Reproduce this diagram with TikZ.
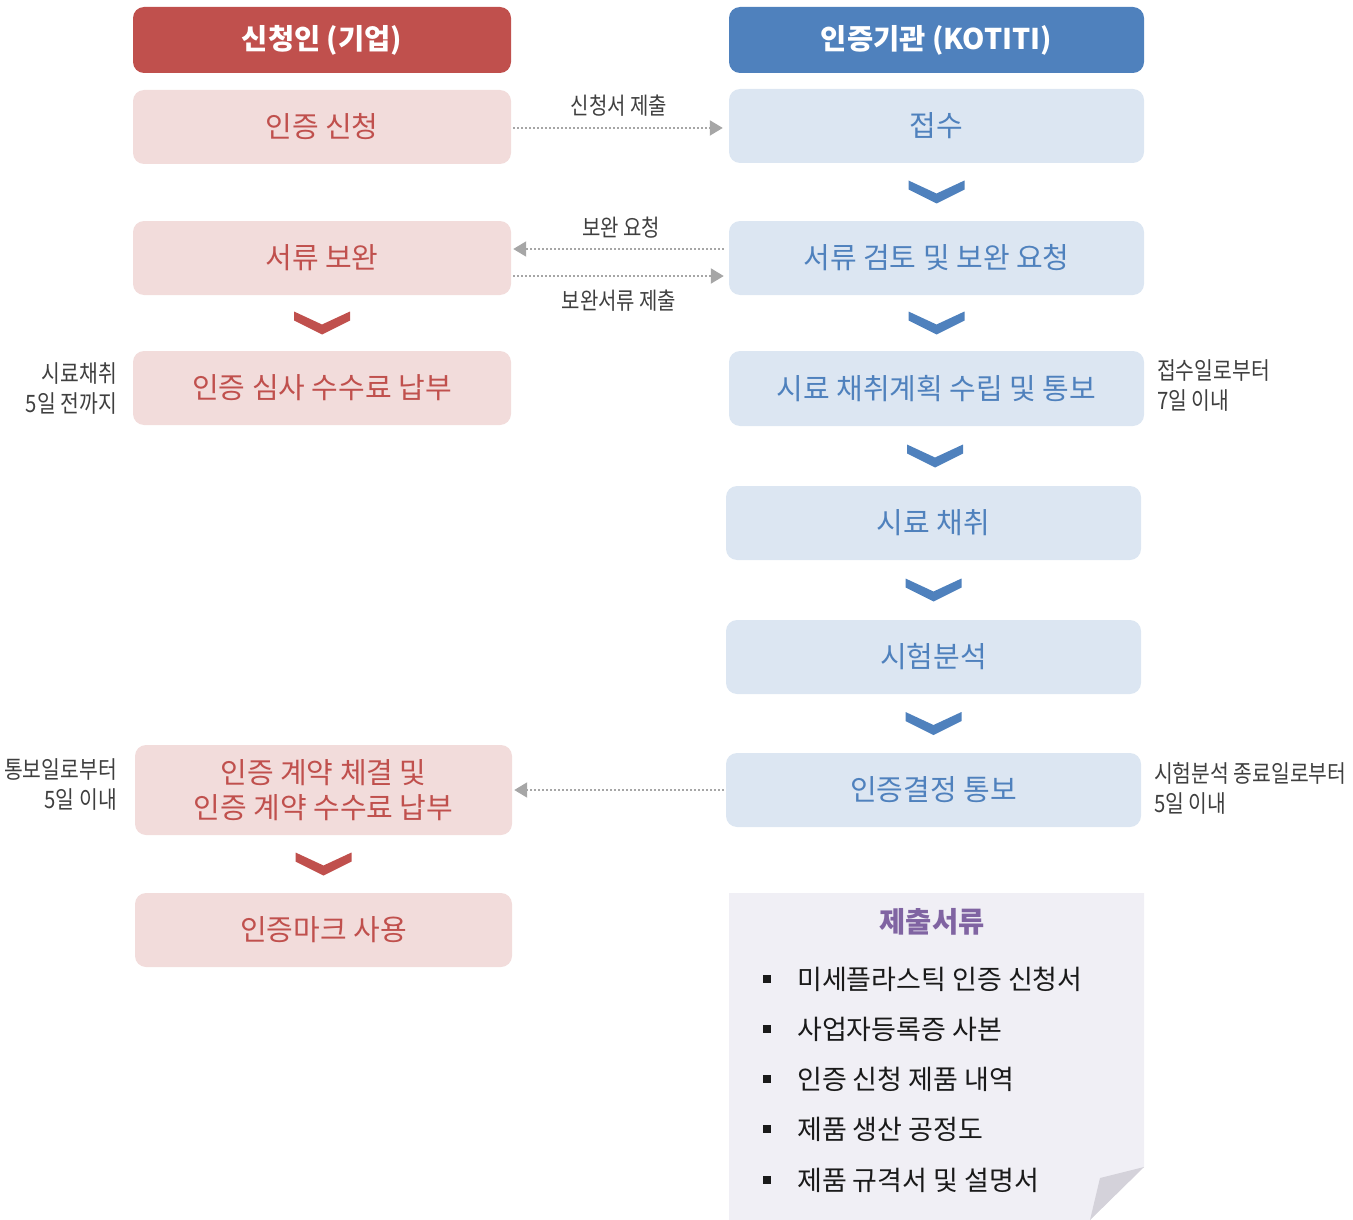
\documentclass[tikz,border=0pt]{standalone}
\usepackage{fontspec}
\setmainfont{Noto Sans CJK KR}
\newfontfamily\condfont{Noto Sans CJK KR}[FakeStretch=0.85]
\usetikzlibrary{arrows.meta,calc}
\definecolor{hdrRed}{HTML}{C0504D}
\definecolor{hdrBlue}{HTML}{4F81BD}
\definecolor{boxPink}{HTML}{F2DCDB}
\definecolor{boxBlue}{HTML}{DCE6F2}
\definecolor{docBg}{HTML}{F0EFF5}
\definecolor{foldGray}{HTML}{D4D2DA}
\definecolor{arrGray}{HTML}{A6A6A6}
\definecolor{sideText}{HTML}{3F3F3F}
\definecolor{docTitle}{HTML}{8064A2}
\definecolor{itemText}{HTML}{1A1A1A}
\begin{document}
\begin{tikzpicture}[x=1pt,y=-1pt,
  box/.style={rounded corners=11pt, minimum height=74pt, inner sep=0pt, align=center,
    font=\fontsize{29}{35}\selectfont},
  lbox/.style={box, fill=boxPink, text=hdrRed, minimum width=378pt},
  rbox/.style={box, fill=boxBlue, text=hdrBlue, minimum width=415pt},
  hdr/.style={rounded corners=11pt, minimum height=66pt, inner sep=0pt, text=white,
    font=\fontsize{28.5}{34}\selectfont\bfseries},
  conn/.style={arrGray, line width=2pt, dash pattern=on 2pt off 2pt,
    -{Triangle[length=13pt,width=15pt,sep=0pt]}},
  lbl/.style={inner sep=0pt, text=sideText, font=\condfont\fontsize{23.5}{28}\selectfont},
  side/.style={inner sep=0pt, text=sideText, font=\condfont\fontsize{24}{30}\selectfont},
  item/.style={inner sep=0pt, anchor=west, text=itemText, font=\fontsize{27}{30}\selectfont},
  chev/.pic={\fill (-28,-11.5) -- (0,1.5) -- (28,-11.5) -- (28,-2.5) -- (0,11.5) -- (-28,-2.5) -- cycle;}
]
\useasboundingbox (0,0) rectangle (1353,1220);

% headers
\node[hdr, fill=hdrRed, minimum width=378pt] (hL) at (322,40) {신청인 (기업)};
\node[hdr, fill=hdrBlue, minimum width=415pt] (hR) at (936.5,40) {인증기관 (KOTITI)};

% left column
\node[lbox] (apply) at (322,127) {인증 신청};
\node[lbox] (fix) at (322,258) {서류 보완};
\node[lbox] (fee) at (322,388) {인증 심사 수수료 납부};
\node[lbox, minimum width=377pt, minimum height=90pt] (contract) at (323.5,790) {인증 계약 체결 및\\인증 계약 수수료 납부};
\node[lbox, minimum width=377pt] (mark) at (323.5,930) {인증마크 사용};

% right column
\node[rbox] (recv) at (936.5,126) {접수};
\node[rbox] (review) at (936.5,258) {서류 검토 및 보완 요청};
\node[rbox, minimum height=75pt] (plan) at (936.5,388.5) {시료 채취계획 수립 및 통보};
\node[rbox] (sample) at (933.5,523) {시료 채취};
\node[rbox] (test) at (933.5,657) {시험분석};
\node[rbox] (decide) at (933.5,790) {인증결정 통보};

% chevrons
\path[fill=hdrBlue]
  ($(recv.south)!0.5!(review.north)$) pic {chev}
  ($(review.south)!0.5!(plan.north)$) pic {chev}
  ($(plan.south)!0.5!(sample.north)$) pic {chev}
  ($(sample.south)!0.5!(test.north)$) pic {chev}
  ($(test.south)!0.5!(decide.north)$) pic {chev};
\path[fill=hdrRed]
  ($(fix.south)!0.5!(fee.north)$) pic {chev}
  ($(contract.south)!0.5!(mark.north)$) pic {chev};

% connectors
\draw[conn, shorten <=2pt, shorten >=6pt] ([yshift=-1pt]apply.east) -- ([yshift=-2pt]recv.west);
\draw[conn, shorten <=5pt, shorten >=2pt] ([yshift=9pt]review.west) -- ([yshift=9pt]fix.east);
\draw[conn, shorten <=2pt, shorten >=5pt] ([yshift=-18pt]fix.east) -- ([yshift=-18pt]review.west);
\draw[conn, shorten <=2pt, shorten >=2pt] (decide.west) -- (contract.east);

% connector labels
\node[lbl] (l1) at (619,106) {신청서 제출};
\node[lbl] (l2) at (621,228) {보완 요청};
\node[lbl] (l3) at (619,301) {보완서류 제출};

% side notes
\node[side, anchor=east, align=right] (s1) at (117,389) {시료채취\\5일 전까지};
\node[side, anchor=west, align=left] (s2) at (1157,386) {접수일로부터\\7일 이내};
\node[side, anchor=east, align=right] (s3) at (117,785) {통보일로부터\\5일 이내};
\node[side, anchor=west, align=left] (s4) at (1154,788) {시험분석 종료일로부터\\5일 이내};

% submission documents
\fill[docBg] (729,893) -- (1144,893) -- (1144,1167) -- (1090,1220) -- (729,1220) -- cycle;
\fill[foldGray] (1144,1167) -- (1090,1220) -- (1100,1178) -- cycle;
\node[inner sep=0pt, text=docTitle, font=\fontsize{28.5}{32}\selectfont\bfseries] (dt) at (932,922) {제출서류};
\foreach \t/\y [count=\i] in {미세플라스틱 인증 신청서/979, 사업자등록증 사본/1029, 인증 신청 제품 내역/1079, 제품 생산 공정도/1129, 제품 규격서 및 설명서/1180}{
  \fill[itemText] (763,\y-4) rectangle (771,\y+4);
  \node[item] (doc\i) at (797,\y) {\t};
}
\end{tikzpicture}
\end{document}
